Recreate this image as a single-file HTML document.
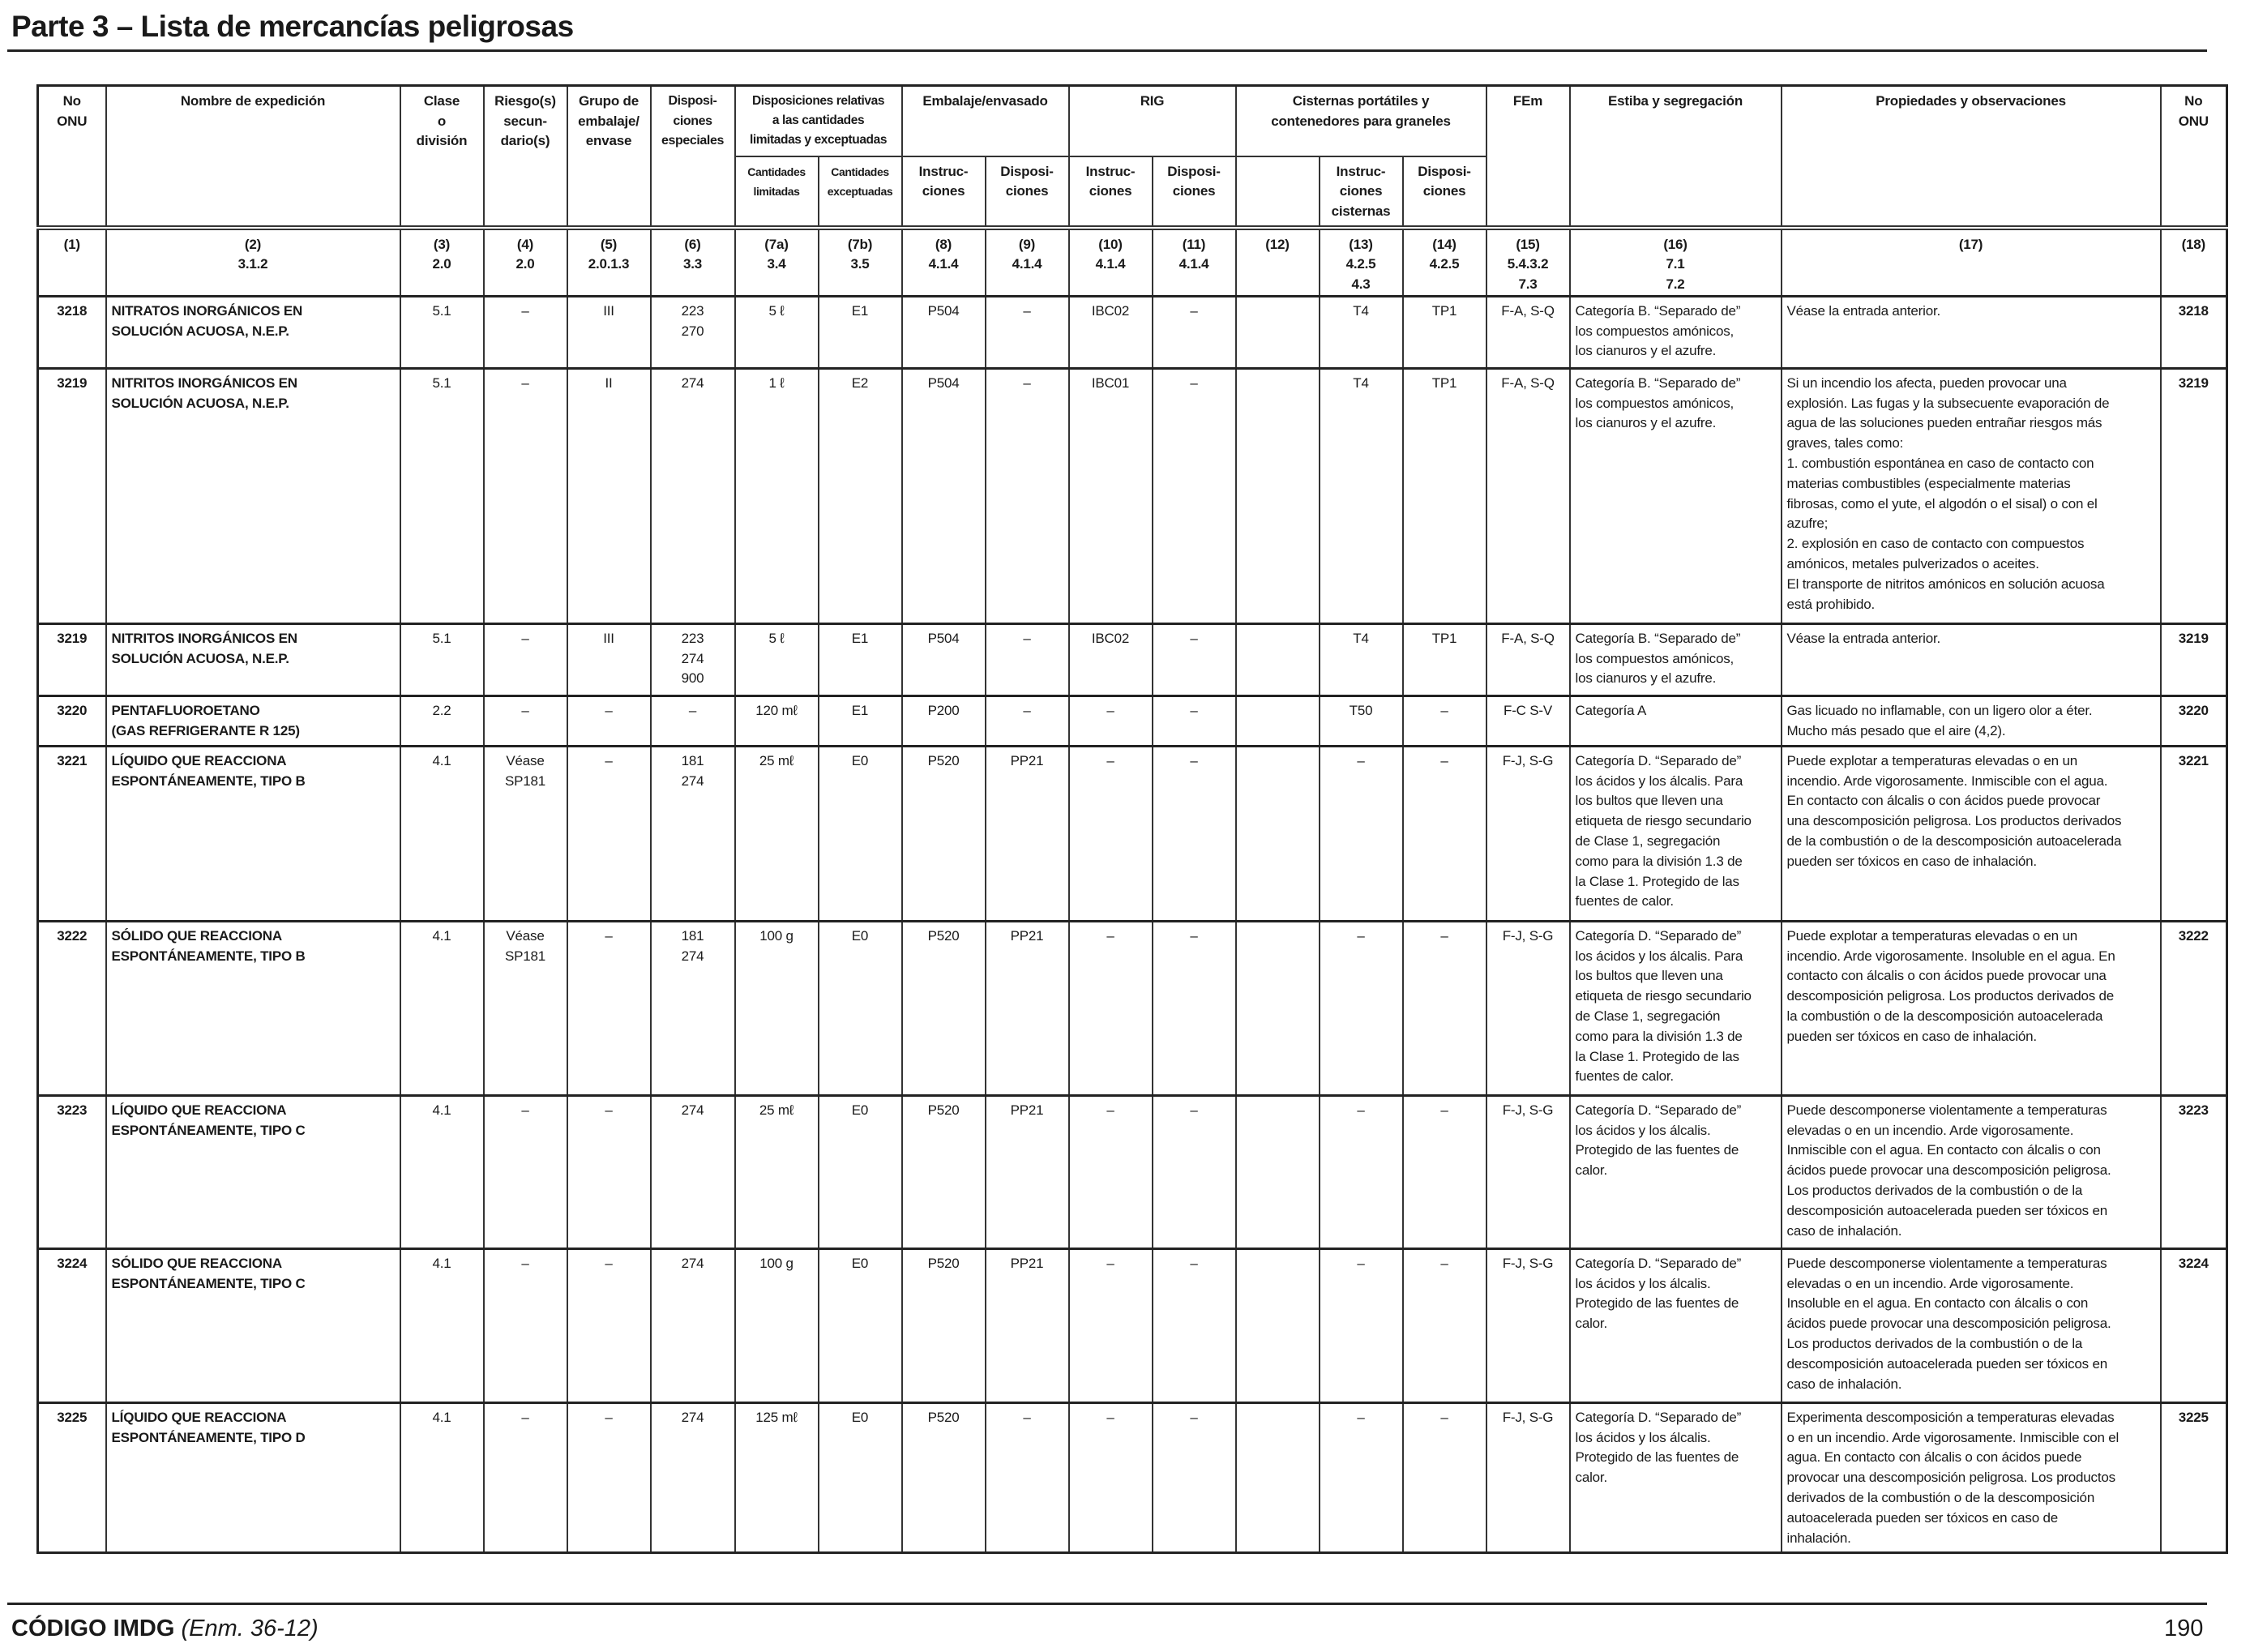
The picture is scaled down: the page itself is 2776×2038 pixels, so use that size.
<!DOCTYPE html>
<html><head><meta charset="utf-8">
<style>
html,body{margin:0;padding:0;background:#fff;}
body{width:2776px;height:2038px;position:relative;overflow:hidden;font-family:"Liberation Sans",Arial,sans-serif;color:#1a1a1a;}
#title{position:absolute;left:14px;top:12px;font-size:37px;font-weight:bold;letter-spacing:-0.5px;white-space:nowrap;}
#title-rule{position:absolute;left:9px;top:61px;width:2714px;height:3px;background:#222;}
table{position:absolute;left:45px;top:104px;border-collapse:collapse;table-layout:fixed;width:2701px;border:3px solid #222;}
td{border:2px solid #333;vertical-align:top;padding:5px 6px 0 6px;font-size:17px;line-height:24.8px;white-space:nowrap;overflow:hidden;text-align:center;letter-spacing:-0.2px;}
thead td{font-weight:bold;font-size:17px;line-height:24.5px;padding-top:6px;}
td.sm{font-size:14px;line-height:24px;letter-spacing:-0.4px;}
tr.num td{font-weight:bold;border-top:6px double #333;padding-top:6px;}
tr.num{height:82px;}
tbody tr.d td{border-top:3px solid #222;}
td.l{text-align:left;}
td.b{font-weight:bold;}
#foot-rule{position:absolute;left:9px;top:1977px;width:2714px;height:3px;background:#222;}
#foot{position:absolute;left:14px;top:1993px;font-size:29px;white-space:nowrap;}
#page{position:absolute;left:2670px;top:1993px;font-size:29px;}
</style></head>
<body>
<div id="title">Parte 3 – Lista de mercancías peligrosas</div>
<div id="title-rule"></div>
<table>
<colgroup>
<col style="width:84px"><col style="width:363px"><col style="width:103px"><col style="width:103px"><col style="width:103px"><col style="width:104px"><col style="width:103px"><col style="width:103px"><col style="width:103px"><col style="width:103px"><col style="width:103px"><col style="width:103px"><col style="width:103px"><col style="width:103px"><col style="width:103px"><col style="width:103px"><col style="width:261px"><col style="width:468px"><col style="width:82px">
</colgroup>
<thead>
<tr style="height:87px">
<td rowspan="2">No<br>ONU</td>
<td rowspan="2">Nombre de expedición</td>
<td rowspan="2">Clase<br>o<br>división</td>
<td rowspan="2">Riesgo(s)<br>secun-<br>dario(s)</td>
<td rowspan="2">Grupo de<br>embalaje/<br>envase</td>
<td rowspan="2" class="sm" style="font-size:16px;line-height:24.5px">Disposi-<br>ciones<br>especiales</td>
<td colspan="2" class="sm" style="font-size:15.5px">Disposiciones relativas<br>a las cantidades<br>limitadas y exceptuadas</td>
<td colspan="2">Embalaje/envasado</td>
<td colspan="2">RIG</td>
<td colspan="3">Cisternas portátiles y<br>contenedores para graneles</td>
<td rowspan="2">FEm</td>
<td rowspan="2">Estiba y segregación</td>
<td rowspan="2">Propiedades y observaciones</td>
<td rowspan="2">No<br>ONU</td>
</tr>
<tr style="height:88px">
<td class="sm">Cantidades<br>limitadas</td>
<td class="sm">Cantidades<br>exceptuadas</td>
<td>Instruc-<br>ciones</td>
<td>Disposi-<br>ciones</td>
<td>Instruc-<br>ciones</td>
<td>Disposi-<br>ciones</td>
<td></td>
<td>Instruc-<br>ciones<br>cisternas</td>
<td>Disposi-<br>ciones</td>
</tr>
</thead>
<tbody>
<tr class="num">
<td>(1)</td><td>(2)<br>3.1.2</td><td>(3)<br>2.0</td><td>(4)<br>2.0</td><td>(5)<br>2.0.1.3</td><td>(6)<br>3.3</td><td>(7a)<br>3.4</td><td>(7b)<br>3.5</td><td>(8)<br>4.1.4</td><td>(9)<br>4.1.4</td><td>(10)<br>4.1.4</td><td>(11)<br>4.1.4</td><td>(12)</td><td>(13)<br>4.2.5<br>4.3</td><td>(14)<br>4.2.5</td><td>(15)<br>5.4.3.2<br>7.3</td><td>(16)<br>7.1<br>7.2</td><td>(17)</td><td>(18)</td>
</tr>
<tr class="d" style="height:89px">
<td class="b">3218</td><td class="l b">NITRATOS INORGÁNICOS EN<br>SOLUCIÓN ACUOSA, N.E.P.</td><td>5.1</td><td>–</td><td>III</td><td>223<br>270</td><td>5 ℓ</td><td>E1</td><td>P504</td><td>–</td><td>IBC02</td><td>–</td><td></td><td>T4</td><td>TP1</td><td>F-A, S-Q</td><td class="l">Categoría B. “Separado de”<br>los compuestos amónicos,<br>los cianuros y el azufre.</td><td class="l">Véase la entrada anterior.</td><td class="b">3218</td>
</tr>
<tr class="d" style="height:315px">
<td class="b">3219</td><td class="l b">NITRITOS INORGÁNICOS EN<br>SOLUCIÓN ACUOSA, N.E.P.</td><td>5.1</td><td>–</td><td>II</td><td>274</td><td>1 ℓ</td><td>E2</td><td>P504</td><td>–</td><td>IBC01</td><td>–</td><td></td><td>T4</td><td>TP1</td><td>F-A, S-Q</td><td class="l">Categoría B. “Separado de”<br>los compuestos amónicos,<br>los cianuros y el azufre.</td><td class="l">Si un incendio los afecta, pueden provocar una<br>explosión. Las fugas y la subsecuente evaporación de<br>agua de las soluciones pueden entrañar riesgos más<br>graves, tales como:<br>1. combustión espontánea en caso de contacto con<br>materias combustibles (especialmente materias<br>fibrosas, como el yute, el algodón o el sisal) o con el<br>azufre;<br>2. explosión en caso de contacto con compuestos<br>amónicos, metales pulverizados o aceites.<br>El transporte de nitritos amónicos en solución acuosa<br>está prohibido.</td><td class="b">3219</td>
</tr>
<tr class="d" style="height:89px">
<td class="b">3219</td><td class="l b">NITRITOS INORGÁNICOS EN<br>SOLUCIÓN ACUOSA, N.E.P.</td><td>5.1</td><td>–</td><td>III</td><td>223<br>274<br>900</td><td>5 ℓ</td><td>E1</td><td>P504</td><td>–</td><td>IBC02</td><td>–</td><td></td><td>T4</td><td>TP1</td><td>F-A, S-Q</td><td class="l">Categoría B. “Separado de”<br>los compuestos amónicos,<br>los cianuros y el azufre.</td><td class="l">Véase la entrada anterior.</td><td class="b">3219</td>
</tr>
<tr class="d" style="height:62px">
<td class="b">3220</td><td class="l b">PENTAFLUOROETANO<br>(GAS REFRIGERANTE R 125)</td><td>2.2</td><td>–</td><td>–</td><td>–</td><td>120 mℓ</td><td>E1</td><td>P200</td><td>–</td><td>–</td><td>–</td><td></td><td>T50</td><td>–</td><td>F-C S-V</td><td class="l">Categoría A</td><td class="l">Gas licuado no inflamable, con un ligero olor a éter.<br>Mucho más pesado que el aire (4,2).</td><td class="b">3220</td>
</tr>
<tr class="d" style="height:216px">
<td class="b">3221</td><td class="l b">LÍQUIDO QUE REACCIONA<br>ESPONTÁNEAMENTE, TIPO B</td><td>4.1</td><td>Véase<br>SP181</td><td>–</td><td>181<br>274</td><td>25 mℓ</td><td>E0</td><td>P520</td><td>PP21</td><td>–</td><td>–</td><td></td><td>–</td><td>–</td><td>F-J, S-G</td><td class="l">Categoría D. “Separado de”<br>los ácidos y los álcalis. Para<br>los bultos que lleven una<br>etiqueta de riesgo secundario<br>de Clase 1, segregación<br>como para la división 1.3 de<br>la Clase 1. Protegido de las<br>fuentes de calor.</td><td class="l">Puede explotar a temperaturas elevadas o en un<br>incendio. Arde vigorosamente. Inmiscible con el agua.<br>En contacto con álcalis o con ácidos puede provocar<br>una descomposición peligrosa. Los productos derivados<br>de la combustión o de la descomposición autoacelerada<br>pueden ser tóxicos en caso de inhalación.</td><td class="b">3221</td>
</tr>
<tr class="d" style="height:215px">
<td class="b">3222</td><td class="l b">SÓLIDO QUE REACCIONA<br>ESPONTÁNEAMENTE, TIPO B</td><td>4.1</td><td>Véase<br>SP181</td><td>–</td><td>181<br>274</td><td>100 g</td><td>E0</td><td>P520</td><td>PP21</td><td>–</td><td>–</td><td></td><td>–</td><td>–</td><td>F-J, S-G</td><td class="l">Categoría D. “Separado de”<br>los ácidos y los álcalis. Para<br>los bultos que lleven una<br>etiqueta de riesgo secundario<br>de Clase 1, segregación<br>como para la división 1.3 de<br>la Clase 1. Protegido de las<br>fuentes de calor.</td><td class="l">Puede explotar a temperaturas elevadas o en un<br>incendio. Arde vigorosamente. Insoluble en el agua. En<br>contacto con álcalis o con ácidos puede provocar una<br>descomposición peligrosa. Los productos derivados de<br>la combustión o de la descomposición autoacelerada<br>pueden ser tóxicos en caso de inhalación.</td><td class="b">3222</td>
</tr>
<tr class="d" style="height:189px">
<td class="b">3223</td><td class="l b">LÍQUIDO QUE REACCIONA<br>ESPONTÁNEAMENTE, TIPO C</td><td>4.1</td><td>–</td><td>–</td><td>274</td><td>25 mℓ</td><td>E0</td><td>P520</td><td>PP21</td><td>–</td><td>–</td><td></td><td>–</td><td>–</td><td>F-J, S-G</td><td class="l">Categoría D. “Separado de”<br>los ácidos y los álcalis.<br>Protegido de las fuentes de<br>calor.</td><td class="l">Puede descomponerse violentamente a temperaturas<br>elevadas o en un incendio. Arde vigorosamente.<br>Inmiscible con el agua. En contacto con álcalis o con<br>ácidos puede provocar una descomposición peligrosa.<br>Los productos derivados de la combustión o de la<br>descomposición autoacelerada pueden ser tóxicos en<br>caso de inhalación.</td><td class="b">3223</td>
</tr>
<tr class="d" style="height:190px">
<td class="b">3224</td><td class="l b">SÓLIDO QUE REACCIONA<br>ESPONTÁNEAMENTE, TIPO C</td><td>4.1</td><td>–</td><td>–</td><td>274</td><td>100 g</td><td>E0</td><td>P520</td><td>PP21</td><td>–</td><td>–</td><td></td><td>–</td><td>–</td><td>F-J, S-G</td><td class="l">Categoría D. “Separado de”<br>los ácidos y los álcalis.<br>Protegido de las fuentes de<br>calor.</td><td class="l">Puede descomponerse violentamente a temperaturas<br>elevadas o en un incendio. Arde vigorosamente.<br>Insoluble en el agua. En contacto con álcalis o con<br>ácidos puede provocar una descomposición peligrosa.<br>Los productos derivados de la combustión o de la<br>descomposición autoacelerada pueden ser tóxicos en<br>caso de inhalación.</td><td class="b">3224</td>
</tr>
<tr class="d" style="height:185px">
<td class="b">3225</td><td class="l b">LÍQUIDO QUE REACCIONA<br>ESPONTÁNEAMENTE, TIPO D</td><td>4.1</td><td>–</td><td>–</td><td>274</td><td>125 mℓ</td><td>E0</td><td>P520</td><td>–</td><td>–</td><td>–</td><td></td><td>–</td><td>–</td><td>F-J, S-G</td><td class="l">Categoría D. “Separado de”<br>los ácidos y los álcalis.<br>Protegido de las fuentes de<br>calor.</td><td class="l">Experimenta descomposición a temperaturas elevadas<br>o en un incendio. Arde vigorosamente. Inmiscible con el<br>agua. En contacto con álcalis o con ácidos puede<br>provocar una descomposición peligrosa. Los productos<br>derivados de la combustión o de la descomposición<br>autoacelerada pueden ser tóxicos en caso de<br>inhalación.</td><td class="b">3225</td>
</tr>
</tbody>
</table>
<div id="foot-rule"></div>
<div id="foot"><b>CÓDIGO IMDG</b> <i>(Enm. 36-12)</i></div>
<div id="page">190</div>
</body></html>
